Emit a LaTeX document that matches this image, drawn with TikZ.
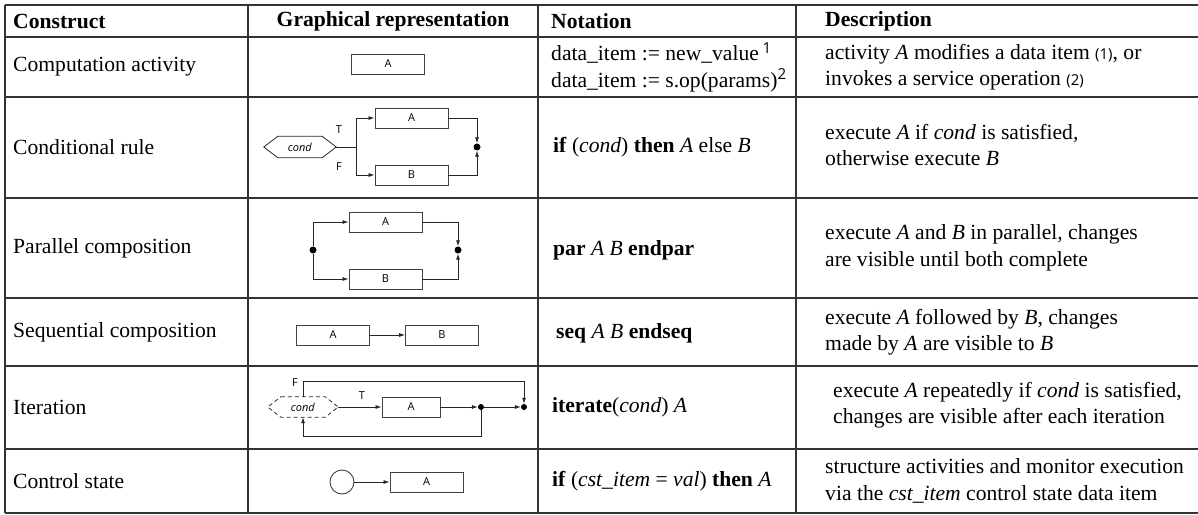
\documentclass[tikz,border=0pt]{standalone}
\usepackage{fontspec}
\setmainfont{Liberation Serif}
\setsansfont{Open Sans}
\usetikzlibrary{arrows.meta}
\begin{document}
\begin{tikzpicture}[x=1pt,y=-1pt,
  tline/.style={line width=1.1pt, draw=black!80},
  hdr/.style={anchor=west, font=\fontsize{21.6}{26}\selectfont\bfseries, inner sep=0},
  txt/.style={anchor=west, font=\fontsize{21.6}{26.5}\selectfont, align=left, inner sep=0},
  box/.style={draw=black!75, line width=0.9pt, minimum width=73pt, minimum height=20pt, inner sep=0, font=\sffamily\fontsize{11}{11}\selectfont},
  lbl/.style={font=\sffamily\fontsize{11}{11}\selectfont, inner sep=0},
  arr/.style={draw=black!85, line width=0.8pt, -{Latex[length=6pt,width=4pt]}},
  ln/.style={draw=black!85, line width=0.8pt},
  dot/.style={circle, fill=black, inner sep=0, minimum size=7pt}
]
\useasboundingbox (0,0) rectangle (1198,514);
% table lines
\foreach \y in {5,37,97,198,298,366,449,513} \draw[tline] (5,\y) -- (1198,\y);
\foreach \x in {5,248,538,796} \draw[tline] (\x,5) -- (\x,513);

% header
\node[hdr] (h1) at (13,21) {Construct};
\node[hdr, anchor=center] (h2) at (393,21) {Graphical representation};
\node[hdr] (h3) at (551,21) {Notation};
\node[hdr] (h4) at (825,21) {Description};

% column 1
\node[txt] (r1) at (13,67) {Computation activity};
\node[txt] (r2) at (13,147) {Conditional rule};
\node[txt] (r3) at (13,248) {Parallel composition};
\node[txt] (r4) at (13,332) {Sequential composition};
\node[txt] (r5) at (13,407) {Iteration};
\node[txt] (r6) at (13,481) {Control state};

% column 3
\node[txt] (n1) at (551,67) {data\_item := new\_value\,\textsuperscript{\sffamily 1}\\data\_item := s.op(params)\textsuperscript{\sffamily 2}};
\node[txt] (n2) at (553,147) {\textbf{if} (\textit{cond}) \textbf{then} \textit{A} else \textit{B}};
\node[txt] (n3) at (553,250) {\textbf{par} \textit{A B} \textbf{endpar}};
\node[txt] (n4) at (556,333) {\textbf{seq} \textit{A B} \textbf{endseq}};
\node[txt] (n5) at (552,407) {\textbf{iterate}(\textit{cond}) \textit{A}};
\node[txt] (n6) at (552,481) {\textbf{if} (\textit{cst\_item} = \textit{val}) \textbf{then} \textit{A}};

% column 4
\node[txt] (d1) at (825,67) {activity \textit{A} modifies a data item {\sffamily\fontsize{15}{15}\selectfont(1)}, or\\invokes a service operation {\sffamily\fontsize{15}{15}\selectfont(2)}};
\node[txt] (d2) at (825,145) {execute \textit{A} if \textit{cond} is satisfied,\\otherwise execute \textit{B}};
\node[txt] (d3) at (825,248) {execute \textit{A} and \textit{B} in parallel, changes\\are visible until both complete};
\node[txt] (d4) at (825,332) {execute \textit{A} followed by \textit{B}, changes\\made by \textit{A} are visible to \textit{B}};
\node[txt] (d5) at (833,405) {execute \textit{A} repeatedly if \textit{cond} is satisfied,\\changes are visible after each iteration};
\node[txt] (d6) at (825,481) {structure activities and monitor execution\\via the \textit{cst\_item} control state data item};

% row 1 diagram
\node[box] (a1) at (388,64) {A};

% row 2 diagram
\node[lbl, minimum width=44pt, minimum height=21pt] (c2) at (300,147) {\textit{cond}};
\coordinate (c2r) at ([xshift=14pt]c2.east);
\coordinate (c2l) at ([xshift=-14pt]c2.west);
\draw[ln] (c2.north west) -- (c2.north east) -- (c2r) -- (c2.south east) -- (c2.south west) -- (c2l) -- cycle;
\node[box] (a2) at (411.5,118) {A};
\node[box] (b2) at (411.5,175) {B};
\coordinate (s2) at (356,147);
\node[dot] (j2) at (477,147) {};
\draw[ln] (c2r) -- (s2);
\draw[arr] (s2) |- (a2.west);
\draw[arr] (s2) |- (b2.west);
\draw[arr] (a2.east) -| (j2);
\draw[arr] (b2.east) -| (j2);
\node[lbl] (t2) at (339,130) {T};
\node[lbl] (f2) at (339,167) {F};

% row 3 diagram
\node[box] (a3) at (385.5,222) {A};
\node[box] (b3) at (385.5,279) {B};
\node[dot] (l3) at (313,250) {};
\node[dot] (j3) at (458,250) {};
\draw[arr] (l3) |- (a3.west);
\draw[arr] (l3) |- (b3.west);
\draw[arr] (a3.east) -| (j3);
\draw[arr] (b3.east) -| (j3);

% row 4 diagram
\node[box] (a4) at (333,335) {A};
\node[box] (b4) at (442,335) {B};
\draw[arr] (a4) -- (b4);

% row 5 diagram
\node[lbl, minimum width=44pt, minimum height=20pt] (c5) at (303,407) {\textit{cond}};
\coordinate (c5r) at ([xshift=13pt]c5.east);
\coordinate (c5l) at ([xshift=-13pt]c5.west);
\draw[ln, dash pattern=on 4pt off 3pt] (c5.north west) -- (c5.north east) -- (c5r) -- (c5.south east) -- (c5.south west) -- (c5l) -- cycle;
\node[box, minimum width=58pt] (a5) at (411,407) {A};
\node[dot, minimum size=6pt] (j5) at (481,407) {};
\node[dot, minimum size=6pt] (e5) at (524,407) {};
\coordinate (k5) at (481,436);
\coordinate (m5) at (303,381);
\draw[arr] (c5r) -- (a5.west);
\draw[arr] (a5.east) -- (j5);
\draw[arr] (j5) -- (e5);
\draw[arr] (j5) -- (k5) -| (c5.south);
\draw[arr] (c5.north) -- (m5) -| (e5);
\node[lbl] (t5) at (362,396) {T};
\node[lbl] (f5) at (295,383) {F};

% row 6 diagram
\node[circle, draw=black!75, line width=0.9pt, minimum size=24pt, inner sep=0] (s6) at (342,482) {};
\node[box] (a6) at (426.5,482) {A};
\draw[arr] (s6) -- (a6);
\end{tikzpicture}
\end{document}
